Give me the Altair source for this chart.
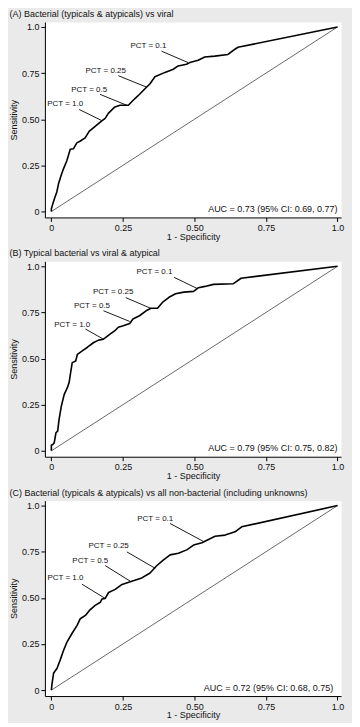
import altair as alt
import pandas as pd

FONT = "Liberation Sans, Arial, Helvetica, sans-serif"

titles = [
    "(A) Bacterial (typicals & atypicals) vs viral",
    "(B) Typical bacterial vs viral & atypical",
    "(C) Bacterial (typicals & atypicals) vs all non-bacterial (including unknowns)",
]
auc_texts = [
    "AUC = 0.73 (95% CI: 0.69, 0.77)",
    "AUC = 0.79 (95% CI: 0.75, 0.82)",
    "AUC = 0.72 (95% CI: 0.68, 0.75)",
]
auc_x = [1.0, 1.0, 0.985]

# ROC curves (1 - specificity, sensitivity)
A_fpr = [0, 0, .004, .011, .019, .025, .034, .042, .054, .066, .077, .089, .1, .118, .132, .153, .174, .188,
         .199, .222, .24, .269, .286, .304, .327, .344, .362, .397, .426, .443, .472, .484, .513, .536, .571,
         .617, .64, .652, 1.0]
A_tpr = [0, .015, .036, .071, .106, .15, .195, .23, .275, .337, .34, .372, .381, .399, .434, .461, .488, .505,
         .532, .567, .576, .576, .603, .629, .665, .691, .73, .754, .771, .789, .798, .807, .82, .837, .842,
         .851, .878, .89, 1.0]

B_fpr = [0, 0, .005, .01, .016, .022, .027, .035, .045, .056, .062, .068, .073, .085, .091, .108, .125, .148,
         .165, .182, .205, .222, .234, .251, .274, .285, .308, .331, .348, .371, .388, .411, .434, .463, .497,
         .514, .537, .566, .635, .663, 1.0]
B_tpr = [0, .03, .034, .043, .098, .107, .17, .243, .306, .342, .37, .43, .478, .487, .523, .542, .56, .587,
         .6, .605, .632, .651, .67, .678, .69, .714, .732, .759, .773, .773, .804, .832, .851, .86, .864,
         .884, .891, .902, .905, .935, 1.0]

C_fpr = [0, .002, .008, .02, .031, .043, .055, .072, .09, .101, .119, .133, .153, .171, .177, .188, .2, .223,
         .247, .281, .316, .345, .368, .392, .415, .444, .473, .497, .526, .549, .572, .607, .642, .665, 1.0]
C_tpr = [0, .031, .093, .119, .164, .217, .262, .307, .351, .387, .405, .432, .459, .476, .494, .497, .529, .546,
         .573, .59, .608, .635, .674, .706, .733, .742, .76, .786, .799, .816, .834, .84, .858, .885, 1.0]

curves = [(A_fpr, A_tpr), (B_fpr, B_tpr), (C_fpr, C_tpr)]

# PCT cut-off annotations
pct_labels = ["PCT = 0.1", "PCT = 0.25", "PCT = 0.5", "PCT = 1.0"]
lab_x = [[.339, .19, .132, .048], [.36, .216, .142, .073], [.363, .2, .136, .049]]
lab_y = [[.895, .759, .656, .58], [.967, .862, .786, .683], [.93, .78, .702, .61]]
lead_x1 = [[.385, .234, .17, .097], [.429, .26, .182, .119], [.415, .264, .188, .107]]
lead_y1 = [[.869, .736, .635, .553], [.94, .83, .759, .66], [.903, .749, .675, .574]]
lead_x2 = [[.478, .333, .263, .176], [.509, .348, .274, .182], [.531, .363, .276, .188]]
lead_y2 = [[.807, .674, .576, .493], [.88, .772, .701, .605], [.806, .66, .59, .497]]

tick_vals = [0, 0.25, 0.5, 0.75, 1.0]
label_expr = "datum.value == 0 ? '0' : (datum.value == 1 ? '1.0' : format(datum.value, '.2f'))"

xs = alt.Scale(domain=[-0.0226, 1.0122], nice=False, zero=False)
ys = alt.Scale(domain=[-0.032, 1.027], nice=False, zero=False)

x_axis = alt.Axis(values=tick_vals, labelExpr=label_expr, title="1 - Specificity", grid=False,
                  tickSize=4, labelPadding=2, titlePadding=0, labelFlush=False)
y_axis = alt.Axis(values=tick_vals, labelExpr=label_expr, title="Sensitivity", grid=False,
                  tickSize=4, labelPadding=2, titlePadding=3, labelFlush=False)


def X(f="x"):
    return alt.X(f"{f}:Q", scale=xs, axis=x_axis)


def Y(f="y"):
    return alt.Y(f"{f}:Q", scale=ys, axis=y_axis)


def panel(i):
    fpr, tpr = curves[i]
    cdf = pd.DataFrame({"x": fpr, "y": tpr, "o": list(range(len(fpr)))})
    diag_df = pd.DataFrame({"x": [0.0], "y": [0.0], "x2": [1.0], "y2": [1.0]})
    lead_df = pd.DataFrame({"x": lead_x1[i], "y": lead_y1[i], "x2": lead_x2[i], "y2": lead_y2[i]})
    lab_df = pd.DataFrame({"x": lab_x[i], "y": lab_y[i], "t": pct_labels})
    auc_df = pd.DataFrame({"x": [auc_x[i]], "y": [0.013], "t": [auc_texts[i]]})

    diag = alt.Chart(diag_df).mark_rule(color="#444444", strokeWidth=0.8).encode(
        x=X(), y=Y(), x2="x2:Q", y2="y2:Q")
    line = alt.Chart(cdf).mark_line(color="black", strokeWidth=1.6, strokeJoin="round").encode(
        x=X(), y=Y(), order="o:Q")
    leads = alt.Chart(lead_df).mark_rule(color="black", strokeWidth=0.9).encode(
        x=X(), y=Y(), x2="x2:Q", y2="y2:Q")
    labs = alt.Chart(lab_df).mark_text(font=FONT, fontSize=8, color="#111111",
                                       align="center", baseline="middle").encode(
        x=X(), y=Y(), text="t:N")
    auc = alt.Chart(auc_df).mark_text(font=FONT, fontSize=9, color="#111111",
                                      align="right", baseline="middle").encode(
        x=X(), y=Y(), text="t:N")
    return alt.layer(diag, line, leads, labs, auc).properties(
        width=297, height=196,
        title=alt.TitleParams(text=titles[i], anchor="start", frame="bounds", fontSize=9,
                              font=FONT, fontWeight="normal", color="#111111", offset=3),
    )


chart = alt.vconcat(panel(0), panel(1), panel(2), spacing=6).properties(
    background="#eaeaea",
    padding={"left": 0, "top": 0, "right": 7, "bottom": 1},
).configure_view(fill="white", stroke="transparent").configure_axis(
    labelFont=FONT, titleFont=FONT, labelFontSize=9, titleFontSize=9,
    labelColor="#111111", titleColor="#111111", titleFontWeight="normal",
    domainColor="black", tickColor="black", domainWidth=1, tickWidth=1,
)

chart.save("out.html", embed_options={"renderer": "svg", "actions": False})
